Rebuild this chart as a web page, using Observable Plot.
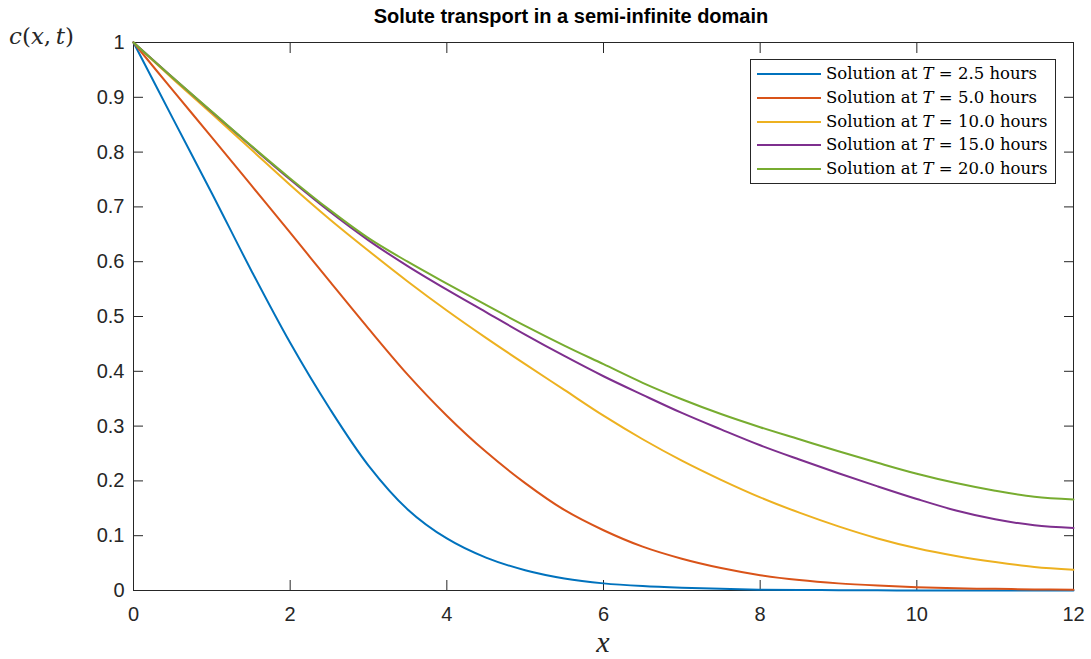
<!DOCTYPE html>
<html>
<head>
<meta charset="utf-8">
<script src="https://cdn.jsdelivr.net/npm/d3@7"></script>
<script src="https://cdn.jsdelivr.net/npm/@observablehq/plot@0.6"></script>
<style>
  html, body { margin: 0; padding: 0; background: #fff; }
  #wrap { position: relative; width: 1091px; height: 659px; overflow: hidden; }
  .title { position: absolute; left: 571px; top: 6px; transform: translateX(-50%); white-space: nowrap;
           font: bold 20px/20px "Liberation Sans", Arial, Helvetica, sans-serif; color: #000; }
  .ylab { position: absolute; left: 9px; top: 25px; white-space: nowrap;
          font: 23px/23px "DejaVu Serif", serif; color: #262626; }
  .xlab { position: absolute; left: 603px; top: 627px; transform: translateX(-50%);
          font: italic 30px/30px "Liberation Serif", serif; color: #262626; }
  .legend { position: absolute; left: 750px; top: 59px; width: 306px; height: 125px; box-sizing: border-box;
            border: 1px solid #262626; background: #fff; }
  .row { position: absolute; left: 0; height: 24px; width: 100%; }
  .sw { position: absolute; left: 6px; width: 64px; height: 2px; top: 11px; }
  .lt { position: absolute; left: 75px; top: 0; white-space: nowrap;
        font: 16.5px/24px "DejaVu Serif", serif; color: #000; }
</style>
</head>
<body>
<div id="wrap"></div>
<script>
// ---- data ----
const xs = [0, 0.5, 1, 1.5, 2, 2.5, 3, 3.5, 4, 4.5, 5, 5.5, 6, 6.5, 7, 7.5, 8, 8.5, 9, 9.5, 10, 10.5, 11, 11.5, 12];
const seriesT = ["2.5", "5.0", "10.0", "15.0", "20.0"];
const cT25  = [1, 0.862, 0.725, 0.585, 0.452, 0.333, 0.228, 0.148, 0.095, 0.060, 0.037, 0.022, 0.013, 0.008, 0.005, 0.003, 0.0015, 0.001, 0.0005, 0.0003, 0.0001, 0.0001, 0, 0, 0];
const cT50  = [1, 0.913, 0.827, 0.740, 0.653, 0.565, 0.478, 0.394, 0.319, 0.253, 0.196, 0.147, 0.110, 0.080, 0.058, 0.041, 0.028, 0.019, 0.013, 0.009, 0.006, 0.004, 0.003, 0.002, 0.0015];
const cT100 = [1, 0.934, 0.870, 0.805, 0.740, 0.678, 0.620, 0.564, 0.511, 0.461, 0.413, 0.366, 0.319, 0.276, 0.237, 0.202, 0.170, 0.142, 0.117, 0.095, 0.077, 0.063, 0.052, 0.043, 0.038];
const cT150 = [1, 0.936, 0.873, 0.811, 0.750, 0.692, 0.639, 0.592, 0.549, 0.508, 0.467, 0.428, 0.391, 0.357, 0.324, 0.294, 0.265, 0.239, 0.214, 0.190, 0.167, 0.146, 0.130, 0.119, 0.114];
const cT200 = [1, 0.936, 0.874, 0.812, 0.752, 0.695, 0.643, 0.600, 0.560, 0.521, 0.483, 0.447, 0.413, 0.379, 0.349, 0.322, 0.298, 0.276, 0.254, 0.233, 0.213, 0.196, 0.182, 0.171, 0.166];
const colors = ["#0072BD", "#D95319", "#EDB120", "#7E2F8E", "#77AC30"];
const xTicks = [0, 2, 4, 6, 8, 10, 12];
const yTicks = [0, 0.1, 0.2, 0.3, 0.4, 0.5, 0.6, 0.7, 0.8, 0.9, 1];
const titleText = "Solute transport in a semi-infinite domain";

const allSeries = [cT25, cT50, cT100, cT150, cT200];
const data = allSeries.flatMap((arr, i) => arr.map((c, j) => ({x: xs[j], c, s: seriesT[i]})));

const axisColor = "#262626";
const chart = Plot.plot({
  width: 1091,
  height: 659,
  marginLeft: 133,
  marginRight: 18,
  marginTop: 42,
  marginBottom: 69,
  style: {fontFamily: '"Liberation Sans", Arial, Helvetica, sans-serif', fontSize: "20px", color: axisColor, background: "white", overflow: "visible"},
  x: {domain: [0, 12], label: null},
  y: {domain: [0, 1], label: null},
  color: {domain: seriesT, range: colors},
  marks: [
    Plot.frame({stroke: axisColor, strokeWidth: 1}),
    Plot.axisX({anchor: "bottom", ticks: xTicks, tickSize: 10, dy: -10, tickFormat: () => "", label: null, stroke: axisColor}),
    Plot.axisX({anchor: "top", ticks: xTicks, tickSize: 10, dy: 10, tickFormat: () => "", label: null, stroke: axisColor}),
    Plot.axisY({anchor: "left", ticks: yTicks, tickSize: 10, dx: 10, tickFormat: () => "", label: null, stroke: axisColor}),
    Plot.axisY({anchor: "right", ticks: yTicks, tickSize: 10, dx: -10, tickFormat: () => "", label: null, stroke: axisColor}),
    Plot.axisX({anchor: "bottom", ticks: xTicks, tickSize: 0, tickPadding: 16, tickFormat: d => String(d), label: null, fontSize: 20}),
    Plot.axisY({anchor: "left", ticks: yTicks, tickSize: 0, tickPadding: 9, tickFormat: d => String(d), label: null, fontSize: 20}),
    Plot.line(data, {x: "x", y: "c", z: "s", stroke: "s", strokeWidth: 2, curve: "catmull-rom"})
  ]
});

const wrap = document.getElementById("wrap");
wrap.appendChild(chart);

const title = document.createElement("div");
title.className = "title";
title.textContent = titleText;
wrap.appendChild(title);

const ylab = document.createElement("div");
ylab.className = "ylab";
ylab.innerHTML = "<i>c</i>(<i>x</i>,&#8201;<i>t</i>)";
wrap.appendChild(ylab);

const xlab = document.createElement("div");
xlab.className = "xlab";
xlab.textContent = "x";
wrap.appendChild(xlab);

const legend = document.createElement("div");
legend.className = "legend";
const rowTops = [2, 26, 50, 73, 97];
seriesT.forEach((t, i) => {
  const row = document.createElement("div");
  row.className = "row";
  row.style.top = rowTops[i] + "px";
  const sw = document.createElement("div");
  sw.className = "sw";
  sw.style.background = colors[i];
  const lt = document.createElement("div");
  lt.className = "lt";
  lt.innerHTML = "Solution at <i>T</i> = " + t + " hours";
  row.appendChild(sw);
  row.appendChild(lt);
  legend.appendChild(row);
});
wrap.appendChild(legend);
</script>
</body>
</html>
